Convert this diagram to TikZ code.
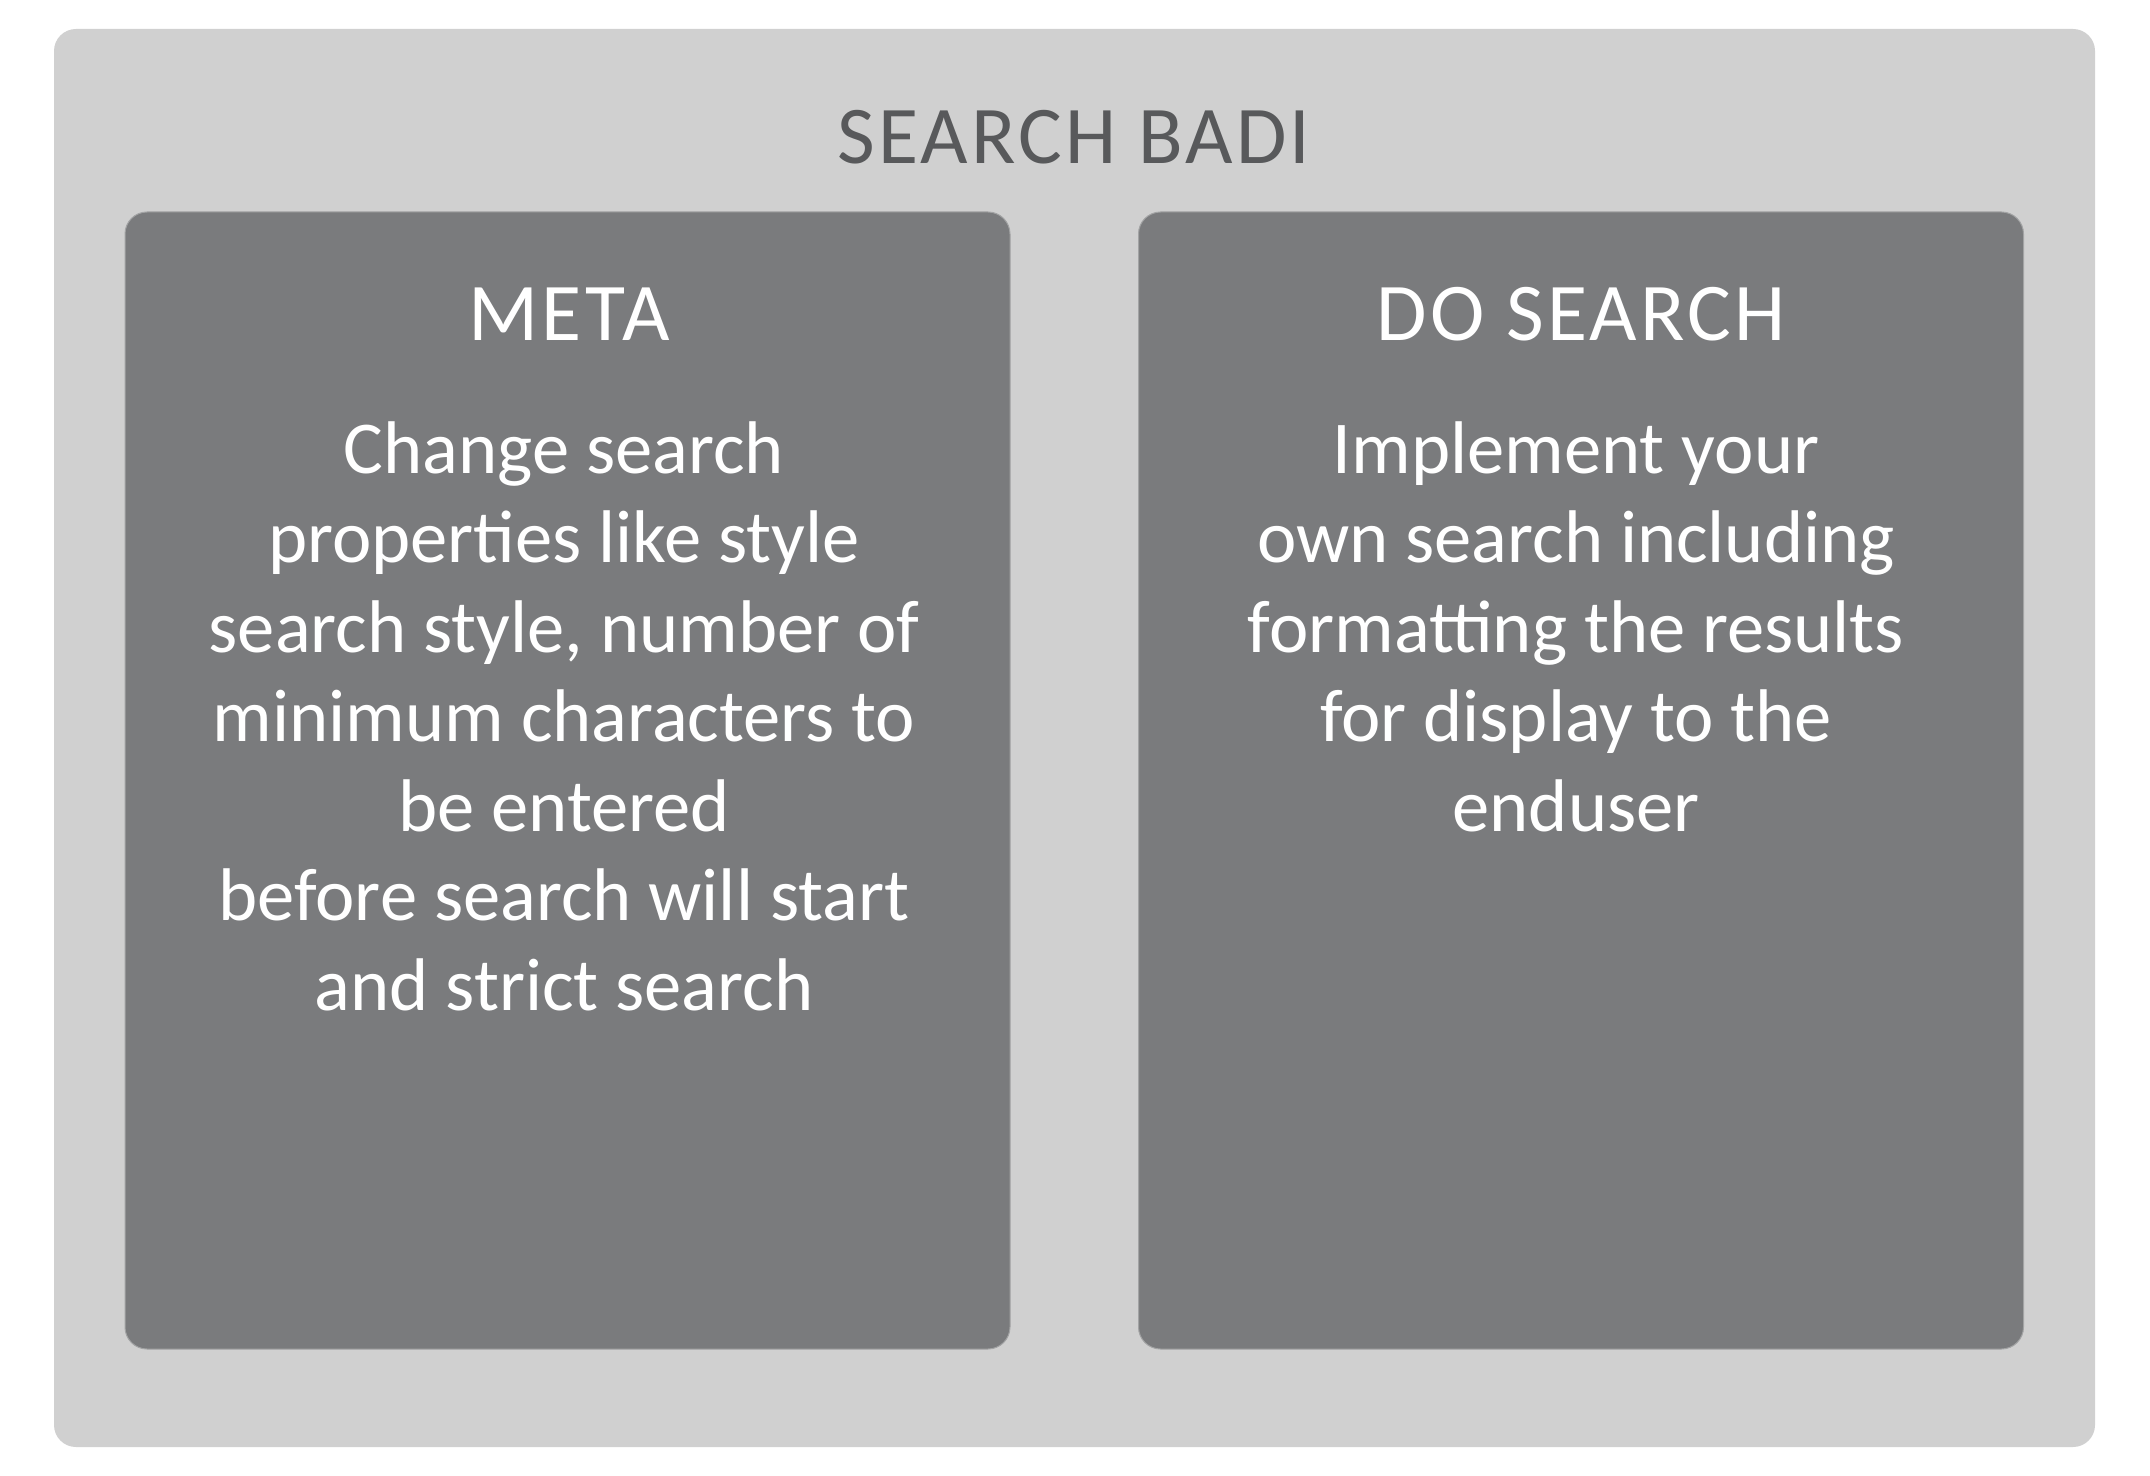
\documentclass[tikz,border=0pt]{standalone}
\usepackage{fontspec}
\setmainfont{Carlito}
\newfontfamily\headfont[LetterSpace=4]{Carlito}
\definecolor{outerbg}{HTML}{D0D0D0}
\definecolor{innerbg}{HTML}{7A7B7D}
\definecolor{inneredge}{HTML}{A2A3A4}
\definecolor{titlecol}{HTML}{58595B}
\tikzset{
  outerbox/.style={fill=outerbg, draw=none, rounded corners=11pt, inner sep=0pt,
    minimum width=1020.5pt, minimum height=709pt},
  panel/.style={fill=innerbg, draw=inneredge, line width=0.5pt, rounded corners=11pt, inner sep=0pt,
    minimum width=442.5pt, minimum height=568.5pt},
  titletext/.style={text=titlecol, anchor=base, inner sep=0pt, font=\headfont\fontsize{41pt}{49pt}\selectfont},
  headtext/.style={text=white, anchor=base, inner sep=0pt, font=\headfont\fontsize{41pt}{49pt}\selectfont},
  bodytext/.style={text=white, anchor=base, inner sep=0pt, align=center,
    font=\fontsize{37.3pt}{44.75pt}\selectfont},
}
\begin{document}
\begin{tikzpicture}[x=0.5pt,y=-0.5pt]
\useasboundingbox (0,0) rectangle (2150,1476);
\fill[white] (0,0) rectangle (2150,1476);
\node[outerbox] (outer) at (1074.5,738) {};
\node[panel] (meta) at (567.5,780.5) {};
\node[panel] (dosearch) at (1581,780.5) {};
\node[titletext] (title) at (1074,164) {SEARCH BADI};
\node[headtext] (metahead) at (569,341) {META};
\node[headtext] (dohead) at (1581,341) {DO SEARCH};
% base anchor of a multi-line node is the baseline of its last line
\node[bodytext] (metabody) at (564,1010) {Change search\\properties like style\\search style, number of\\minimum characters to\\be entered\\before search will start\\and strict search};
\node[bodytext] (dobody) at (1576,831) {Implement your\\own search including\\formatting the results\\for display to the\\enduser};
\end{tikzpicture}
\end{document}
